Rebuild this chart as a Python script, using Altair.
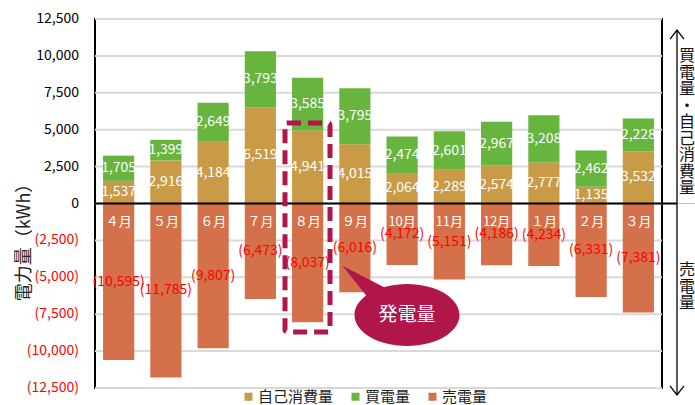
import altair as alt
import pandas as pd

months = ["４月", "５月", "６月", "７月", "８月", "９月", "10月", "11月", "12月", "１月", "２月", "３月"]
self_use = [1537, 2916, 4184, 6519, 4941, 4015, 2064, 2289, 2574, 2777, 1135, 3532]
bought = [1705, 1399, 2649, 3793, 3585, 3795, 2474, 2601, 2967, 3208, 2462, 2228]
sold = [10595, 11785, 9807, 6473, 8037, 6016, 4172, 5151, 4186, 4234, 6331, 7381]
series = ["自己消費量", "買電量", "売電量"]
colors = ["#C99B47", "#67B43F", "#D4714A"]
y_ticks = [-12500, -10000, -7500, -5000, -2500, 0, 2500, 5000, 7500, 10000, 12500]

FONT = "Noto Sans CJK JP"

rows = []
for m, s, b, d in zip(months, self_use, bought, sold):
    rows.append({"month": m, "series": series[0], "y0": 0, "y1": s, "mid": s / 2,
                 "label": f"{s:,}", "kind": "pos"})
    rows.append({"month": m, "series": series[1], "y0": s, "y1": s + b, "mid": s + b / 2,
                 "label": f"{b:,}", "kind": "pos"})
    rows.append({"month": m, "series": series[2], "y0": 0, "y1": -d, "mid": -d / 2,
                 "label": f"({d:,})", "kind": "neg"})
df = pd.DataFrame(rows)
month_df = pd.DataFrame({"month": months, "zero": [0] * len(months)})
tick_df = pd.DataFrame({"t": y_ticks,
                        "txt": [f"({-t:,})" if t < 0 else f"{t:,}" for t in y_ticks],
                        "neg": [t < 0 for t in y_ticks]})
one = pd.DataFrame({"v": [0]})

xenc = alt.X("month:N", sort=months,
             scale=alt.Scale(domain=months, paddingInner=0.34, paddingOuter=0.17),
             axis=None)
yscale = alt.Scale(domain=[-12500, 12500], nice=False, zero=False)

grid = alt.Chart(tick_df).mark_rule(color="#D9D9D9", strokeWidth=2).encode(
    y=alt.Y("t:Q", scale=yscale, axis=None), x=alt.value(0), x2=alt.value(567))

bars = alt.Chart(df).mark_bar().encode(
    x=xenc,
    y=alt.Y("y0:Q", scale=yscale, axis=None),
    y2="y1:Q",
    color=alt.Color("series:N", scale=alt.Scale(domain=series, range=colors),
                    legend=alt.Legend(orient="none", legendX=146, legendY=370,
                                      direction="horizontal", title=None,
                                      symbolType="square", symbolSize=64,
                                      symbolStrokeWidth=0, symbolOpacity=1,
                                      labelFontSize=15, labelFont=FONT,
                                      labelColor="#222222", columnPadding=14,
                                      labelOffset=2)),
)

tick_labels = alt.Chart(tick_df).mark_text(
    fontSize=14, font=FONT, align="right", baseline="middle"
).encode(
    x=alt.value(-16),
    y=alt.Y("t:Q", scale=yscale, axis=None),
    text="txt:N",
    color=alt.Color("neg:N", scale=alt.Scale(domain=[False, True], range=["#000000", "#FF0000"]),
                    legend=None),
)

y_title = alt.Chart(one).mark_text(
    fontSize=18, font=FONT, color="#222222", angle=270, align="center", baseline="middle"
).encode(x=alt.value(-70), y=alt.value(219), text=alt.value("電力量（kWh）"))

pos_labels = alt.Chart(df).transform_filter("datum.kind == 'pos'").mark_text(
    color="white", fontSize=14, font=FONT, baseline="middle"
).encode(x=xenc, y=alt.Y("mid:Q", scale=yscale, axis=None), text="label:N")

neg_labels = alt.Chart(df).transform_filter("datum.kind == 'neg'").mark_text(
    color="#FF0000", fontSize=14, font=FONT, baseline="middle"
).encode(x=xenc, y=alt.Y("mid:Q", scale=yscale, axis=None), text="label:N")

month_labels = alt.Chart(month_df).mark_text(
    color="white", fontSize=13, font=FONT, baseline="middle", dy=18
).encode(x=xenc, y=alt.Y("zero:Q", scale=yscale, axis=None), text="month:N")

zero_rule = alt.Chart(one).mark_rule(color="black", strokeWidth=2).encode(
    y=alt.Y("v:Q", scale=yscale, axis=None), x=alt.value(0), x2=alt.value(582))
zero_tail = alt.Chart(one).mark_rule(color="#BFBFBF", strokeWidth=1).encode(
    y=alt.Y("v:Q", scale=yscale, axis=None), x=alt.value(582), x2=alt.value(605))

arrow_line = alt.Chart(one).mark_rule(color="black", strokeWidth=1.3).encode(
    x=alt.value(582), y=alt.value(11), y2=alt.value(376))
arrow_top = alt.Chart(one).mark_point(
    shape="M -1 1.3 L 0 0 L 1 1.3", filled=False, stroke="black", strokeWidth=1.3,
    size=196, opacity=1).encode(x=alt.value(582), y=alt.value(11))
arrow_bot = alt.Chart(one).mark_point(
    shape="M -1 -1.3 L 0 0 L 1 -1.3", filled=False, stroke="black", strokeWidth=1.3,
    size=196, opacity=1).encode(x=alt.value(582), y=alt.value(376))

side_top = alt.Chart(one).mark_text(
    fontSize=16, font=FONT, color="#111111", lineBreak="\n", lineHeight=16.5,
    baseline="middle", align="center"
).encode(x=alt.value(592), y=alt.value(37), text=alt.value("買\n電\n量\n・\n自\n己\n消\n費\n量"))
side_bot = alt.Chart(one).mark_text(
    fontSize=16, font=FONT, color="#111111", lineBreak="\n", lineHeight=16.5,
    baseline="middle", align="center"
).encode(x=alt.value(592), y=alt.value(251), text=alt.value("売\n電\n量"))

dash_box = alt.Chart(one).mark_rect(
    fillOpacity=0, stroke="#B0164A", strokeWidth=5, strokeDash=[14, 7], cornerRadius=2
).encode(x=alt.value(190), x2=alt.value(235), y=alt.value(104), y2=alt.value(313))

bubble_path = ("M 1 0 A 1 0.59 0 1 1 -1 0 A 1 0.59 0 1 1 1 0 Z "
               "M -0.75 -0.34 L -1.23 -0.94 L -0.38 -0.5 Z")
bubble = alt.Chart(one).mark_point(
    shape=bubble_path, filled=True, fill="#B0164A", strokeWidth=0, size=11025, opacity=1
).encode(x=alt.value(312), y=alt.value(296))
bubble_text = alt.Chart(one).mark_text(
    color="white", fontSize=19, font=FONT, baseline="middle", align="center"
).encode(x=alt.value(312), y=alt.value(296), text=alt.value("発電量"))

chart = alt.layer(
    grid, bars, zero_rule, zero_tail, tick_labels, y_title, pos_labels, neg_labels, month_labels,
    dash_box, bubble, bubble_text, arrow_line, arrow_top, arrow_bot, side_top, side_bot
).resolve_scale(color="independent").properties(
    width=567, height=369,
    autosize=alt.AutoSizeParams(type="none"),
    padding={"left": 95, "top": 19, "right": 33, "bottom": 17},
).configure(font=FONT).configure_view(stroke="black", strokeWidth=2)

chart.save("out.html", embed_options={"renderer": "svg", "actions": False})
